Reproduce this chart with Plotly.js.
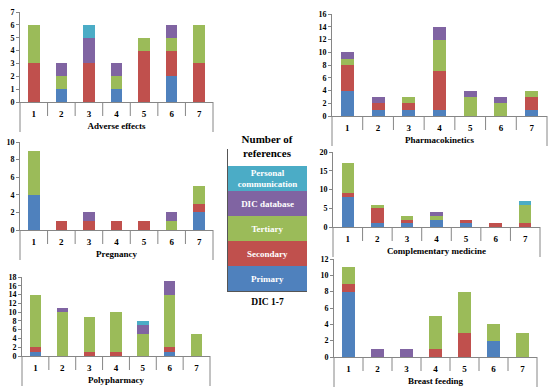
<!DOCTYPE html>
<html>
<head>
<meta charset="utf-8">
<script src="https://cdn.plot.ly/plotly-3.0.1.min.js"></script>
<style>html,body{margin:0;padding:0;background:#fff;}#chart{width:550px;height:389px;}</style>
</head>
<body>
<div id="chart"></div>
<script>
// ---------- DATA ----------
const categories = ['1', '2', '3', '4', '5', '6', '7'];
const seriesNames = ['Primary', 'Secondary', 'Tertiary', 'DIC database', 'Personal communication'];
const legendLabels = ['Primary', 'Secondary', 'Tertiary', 'DIC database', 'Personal<br>communication'];
const legendCategory = ['DIC 1-7'];
const legendValues = [1, 1, 1, 1, 1];

const panelTitles = ['Adverse effects', 'Pharmacokinetics', 'Pregnancy', 'Complementary medicine', 'Polypharmacy', 'Breast feeding'];
const panelMax = [7, 16, 10, 20, 18, 12];
const panelStep = [1, 2, 2, 5, 2, 2];

// series order: Primary, Secondary, Tertiary, DIC database, Personal communication
const adverseEffects = [
  [0, 1, 0, 1, 0, 2, 0],
  [3, 0, 3, 0, 4, 2, 3],
  [3, 1, 0, 1, 1, 1, 3],
  [0, 1, 2, 1, 0, 1, 0],
  [0, 0, 1, 0, 0, 0, 0]
];
const pharmacokinetics = [
  [4, 1, 1, 1, 0, 0, 1],
  [4, 1, 1, 6, 0, 0, 2],
  [1, 0, 1, 5, 3, 2, 1],
  [1, 1, 0, 2, 1, 1, 0],
  [0, 0, 0, 0, 0, 0, 0]
];
const pregnancy = [
  [4, 0, 0, 0, 0, 0, 2],
  [0, 1, 1, 1, 1, 0, 1],
  [5, 0, 0, 0, 0, 1, 2],
  [0, 0, 1, 0, 0, 1, 0],
  [0, 0, 0, 0, 0, 0, 0]
];
const complementaryMedicine = [
  [8, 1, 1, 2, 1, 0, 0],
  [1, 4, 1, 0, 1, 1, 1],
  [8, 1, 1, 1, 0, 0, 5],
  [0, 0, 0, 1, 0, 0, 0],
  [0, 0, 0, 0, 0, 0, 1]
];
const polypharmacy = [
  [1, 0, 0, 0, 0, 1, 0],
  [1, 0, 1, 1, 0, 1, 0],
  [12, 10, 8, 9, 5, 12, 5],
  [0, 1, 0, 0, 2, 3, 0],
  [0, 0, 0, 0, 1, 0, 0]
];
const breastFeeding = [
  [8, 0, 0, 0, 0, 2, 0],
  [1, 0, 0, 1, 3, 0, 0],
  [2, 0, 0, 4, 5, 2, 3],
  [0, 1, 1, 0, 0, 0, 0],
  [0, 0, 0, 0, 0, 0, 0]
];
const panels = [adverseEffects, pharmacokinetics, pregnancy, complementaryMedicine, polypharmacy, breastFeeding];

// ---------- STYLE ----------
const colors = ['#4F81BD', '#C0504D', '#9BBB59', '#8064A2', '#4BACC6'];
const serif = "'Liberation Serif', 'Times New Roman', serif";
const axisGray = '#868686';
const W = 550, H = 389;
// pixel boxes [left, right, top(max), bottom(0)]
const boxes = [
  [20, 213, 12, 102],
  [332, 547, 14, 116],
  [20, 213, 142, 230],
  [333, 540, 152, 227],
  [22, 210, 277, 356],
  [334, 537, 259, 357]
];
const legendBox = [228, 307, 149, 291];

const traces = [];
const layout = {
  width: W, height: H,
  margin: {l: 0, r: 0, t: 0, b: 0},
  paper_bgcolor: '#ffffff', plot_bgcolor: 'rgba(0,0,0,0)',
  barmode: 'stack', bargap: 0.58, showlegend: false,
  font: {family: serif, color: '#000000'},
  title: {
    text: '<b>Number of<br>references</b>',
    font: {family: serif, size: 11, color: '#000000'},
    x: 267 / W, xanchor: 'center', xref: 'paper',
    y: 1 - 143 / H, yanchor: 'middle', yref: 'container'
  },
  shapes: [],
  annotations: []
};

panels.forEach((panel, p) => {
  const n = p + 1;
  const xa = n === 1 ? 'x' : 'x' + n;
  const ya = n === 1 ? 'y' : 'y' + n;
  panel.forEach((vals, s) => {
    traces.push({
      type: 'bar', x: categories, y: vals, name: seriesNames[s],
      xaxis: xa, yaxis: ya,
      marker: {color: colors[s], line: {width: 0}},
      hoverinfo: 'name+y'
    });
  });
  const b = boxes[p];
  const xKey = n === 1 ? 'xaxis' : 'xaxis' + n;
  const yKey = n === 1 ? 'yaxis' : 'yaxis' + n;
  layout[xKey] = {
    domain: [b[0] / W, b[1] / W], anchor: ya, type: 'category',
    range: [-0.5, categories.length - 0.5], fixedrange: true,
    showline: true, linecolor: axisGray, linewidth: 1, ticks: '', showgrid: false, zeroline: false,
    tickfont: {family: serif, size: 9, color: '#000000', weight: 'bold'},
    ticklabelstandoff: 3,
    automargin: false,
    title: {text: '<b>' + panelTitles[p] + '</b>', font: {family: serif, size: 9, color: '#000000'}, standoff: 4}
  };
  layout[yKey] = {
    domain: [1 - b[3] / H, 1 - b[2] / H], anchor: xa,
    range: [0, panelMax[p]], dtick: panelStep[p], tick0: 0, fixedrange: true,
    showline: true, linecolor: axisGray, linewidth: 1, ticks: 'outside', ticklen: 3, tickcolor: axisGray,
    showgrid: false, zeroline: false, automargin: false,
    tickfont: {family: serif, size: 8, color: '#000000', weight: 'bold'}
  };
  // category dividers (Excel-style)
  for (let k = 0; k <= categories.length; k++) {
    const outer = (k === 0 || k === categories.length);
    layout.shapes.push({
      type: 'line', xref: xa + ' domain', yref: ya + ' domain',
      x0: k / categories.length, x1: k / categories.length,
      ysizemode: 'pixel', yanchor: 0, y0: 0, y1: outer ? -30 : -14,
      line: {color: axisGray, width: 1}
    });
  }
});

// legend panel drawn as a one-bar stacked chart
seriesNames.forEach((nm, s) => {
  traces.push({
    type: 'bar', x: legendCategory, y: [legendValues[s]], width: 1, name: nm,
    xaxis: 'x7', yaxis: 'y7',
    marker: {color: colors[s], line: {width: 0}},
    text: ['<b>' + legendLabels[s] + '</b>'], textposition: 'inside', insidetextanchor: 'middle',
    constraintext: 'none',
    textfont: {family: serif, size: 9, color: '#ffffff'},
    hoverinfo: 'name'
  });
});
const legendTotal = legendValues.reduce((a, c) => a + c, 0);
const segPx = (legendBox[3] - 166) / legendTotal;
layout.xaxis7 = {
  domain: [legendBox[0] / W, legendBox[1] / W], anchor: 'y7', type: 'category',
  range: [-0.5, 0.5], fixedrange: true, showline: true, linecolor: '#555555', linewidth: 1,
  ticks: '', showgrid: false, zeroline: false, automargin: false,
  tickfont: {family: serif, size: 9.5, color: '#000000', weight: 'bold'}, ticklabelstandoff: 2
};
layout.yaxis7 = {
  domain: [1 - legendBox[3] / H, 1 - legendBox[2] / H], anchor: 'x7',
  range: [0, (legendBox[3] - legendBox[2]) / segPx], fixedrange: true,
  showline: true, linecolor: '#555555', linewidth: 1, showticklabels: false, ticks: '',
  showgrid: false, zeroline: false, automargin: false
};

Plotly.newPlot('chart', traces, layout, {staticPlot: true, displayModeBar: false});
</script>
</body>
</html>
